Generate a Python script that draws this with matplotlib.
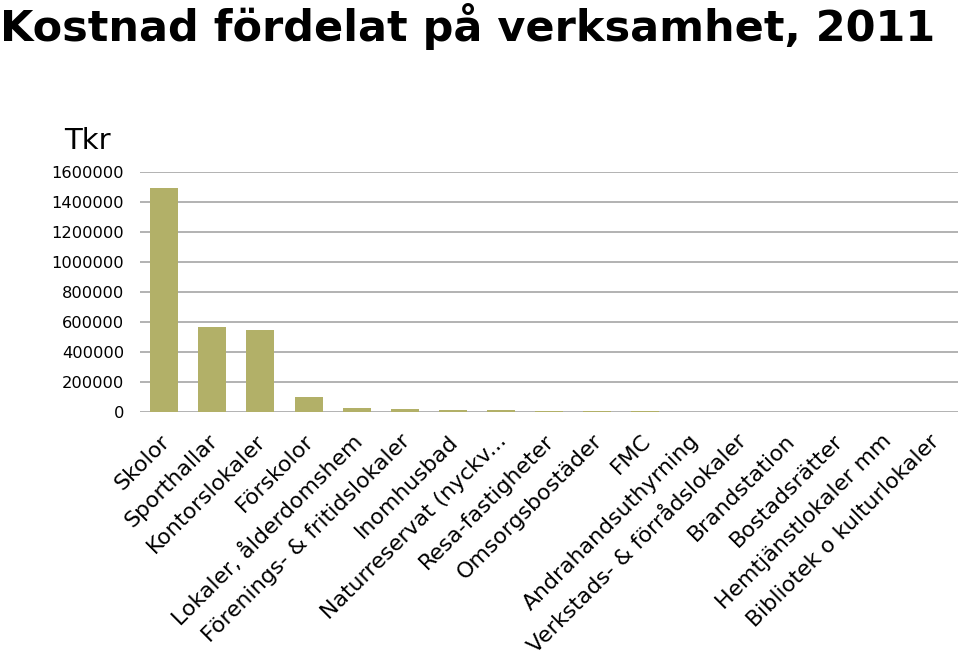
import numpy as np
import matplotlib
matplotlib.use("Agg")
import matplotlib.pyplot as plt
import matplotlib.transforms as mtransforms

plt.rcParams["font.family"] = ["DejaVu Sans"]

# kategorier och kostnad (Tkr)
kategorier = ["Skolor", "Sporthallar", "Kontorslokaler", "Förskolor",
              "Lokaler, ålderdomshem", "Förenings- & fritidslokaler",
              "Inomhusbad", "Naturreservat (nyckv...", "Resa-fastigheter",
              "Omsorgsbostäder", "FMC", "Andrahandsuthyrning",
              "Verkstads- & förrådslokaler", "Brandstation", "Bostadsrätter",
              "Hemtjänstlokaler mm", "Bibliotek o kulturlokaler"]
kostnad = [1495000, 570000, 545000, 100000, 29000, 18000, 16000, 15000,
           8000, 7000, 5000, 1500, 800, 500, 300, 200, 100]
yticks = [0, 200000, 400000, 600000, 800000, 1000000, 1200000, 1400000, 1600000]

fig = plt.figure(figsize=(9.6, 6.54), dpi=100)
ax = fig.add_axes([0.146, 0.370, 0.852, 0.367])

x = np.arange(len(kategorier))
ax.bar(x, kostnad, width=0.58, color="#b2b068", zorder=3)

ax.set_ylim(0, 1600000)
ax.set_xlim(-0.5, len(kategorier) - 0.5)
ax.set_yticks(yticks)
ax.set_yticklabels([str(v) for v in yticks], fontsize=11.7)
ax.yaxis.grid(True, color="#a6a6a6", linewidth=1.2, zorder=0)
ax.tick_params(axis="y", length=0, pad=11.5)
ax.tick_params(axis="x", length=0, pad=10)
for s in ax.spines.values():
    s.set_visible(False)

ax.set_xticks(x)
ax.set_xticklabels(kategorier, rotation=45, ha="right", va="top",
                   rotation_mode="anchor", fontsize=15.8)
# flytta etiketterna lite snett ned åt vänster
forskj = mtransforms.ScaledTranslation(-5 / 100, -5 / 100, fig.dpi_scale_trans)
for lbl in ax.get_xticklabels():
    lbl.set_transform(lbl.get_transform() + forskj)

fig.text(0.0, 0.995, "Kostnad fördelat på verksamhet, 2011", fontsize=31,
         fontweight="bold", ha="left", va="top")
fig.text(0.067, 0.785, "Tkr", fontsize=21, ha="left", va="center")

fig.savefig("out.png", dpi=100)
